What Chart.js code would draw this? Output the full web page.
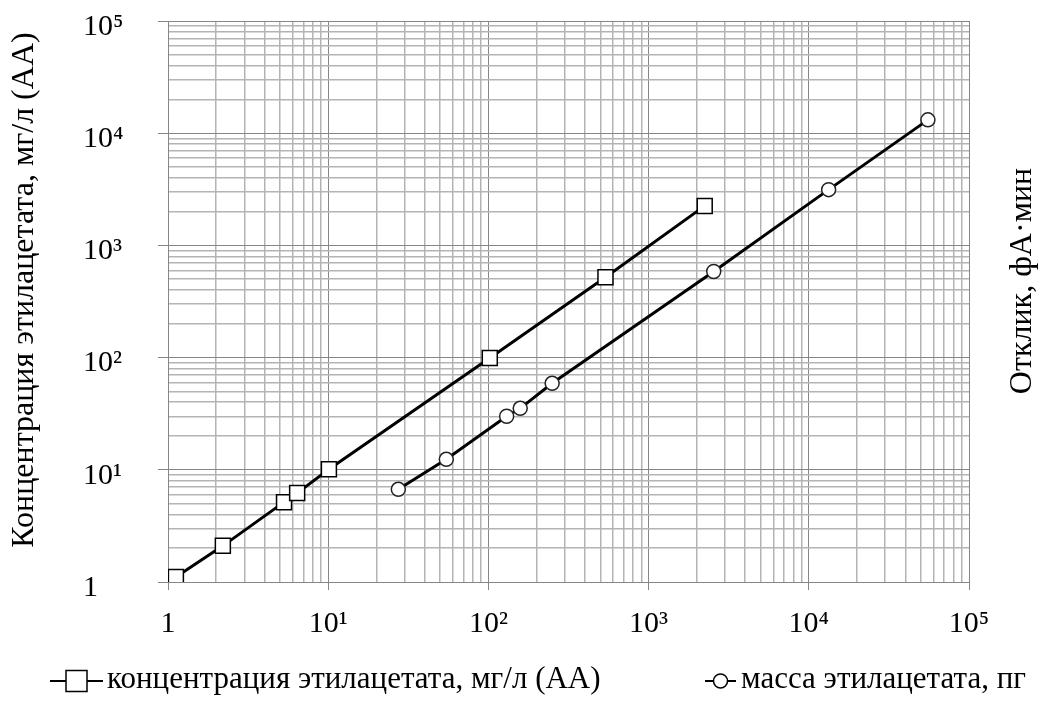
<!DOCTYPE html>
<html>
<head>
<meta charset="utf-8">
<script src="https://cdn.jsdelivr.net/npm/chart.js@4.4.0/dist/chart.umd.min.js"></script>
<style>
  html, body { margin: 0; padding: 0; background: #fff; }
  #wrap { width: 1057px; height: 702px; }
</style>
</head>
<body>
<div id="wrap"><canvas id="chart"></canvas></div>
<script>
// axis decades and their labels
const decades = [1, 10, 100, 1000, 10000, 100000]
const tickLabels = ['1', '10¹', '10²', '10³', '10⁴', '10⁵']
const minorSteps = [1, 2, 3, 4, 5, 6, 7, 8, 9]

// concentration series (squares)
const concX = [1.12, 2.2, 5.3, 6.4, 10.1, 102, 538, 2240]
const concY = [1.11, 2.1, 5.15, 6.2, 10.1, 99, 520, 2250]

// mass series (circles)
const massX = [27.4, 54.6, 130, 158, 250, 2550, 13300, 55400]
const massY = [6.7, 12.4, 30, 35.3, 59, 585, 3140, 13150]

const seriesNames = ['концентрация этилацетата, мг/л (АА)', 'масса этилацетата, пг']
const leftTitle = 'Концентрация этилацетата, мг/л (АА)'
const rightTitle = 'Отклик, фА·мин'

const FONT = '"Liberation Serif", "Times New Roman", serif'
const MAJOR = '#868686'
const MINOR = '#b4b4b4'

const isMajor = v => decades.includes(v)
const labelFor = v => {
  const i = decades.indexOf(v)
  return i >= 0 ? tickLabels[i] : ''
}
const gridTicks = () => {
  const ticks = []
  decades.slice(0, -1).forEach(d => minorSteps.forEach(m => ticks.push({ value: m * d })))
  ticks.push({ value: decades[decades.length - 1] })
  return ticks
}
const points = (xs, ys) => xs.map((x, i) => ({ x: x, y: ys[i] }))

const logAxis = (tickLength, ticks, afterFit) => ({
  type: 'logarithmic',
  min: decades[0],
  max: decades[decades.length - 1],
  afterBuildTicks: scale => { scale.ticks = gridTicks() },
  afterFit: afterFit,
  ticks: Object.assign({
    autoSkip: false,
    color: '#000',
    font: { family: FONT, size: 30 },
    callback: v => labelFor(v)
  }, ticks),
  grid: {
    color: c => (c.tick && isMajor(c.tick.value)) ? MAJOR : MINOR,
    lineWidth: c => (c.tick && isMajor(c.tick.value)) ? 1 : 1.5,
    tickColor: c => (c.tick && isMajor(c.tick.value)) ? MAJOR : 'rgba(0,0,0,0)',
    tickLength: tickLength
  },
  border: { color: MAJOR, width: 1 }
})

// titles on both sides read bottom-to-top, legend with line + marker
const decor = {
  id: 'decor',
  afterDraw(chart) {
    const ctx = chart.ctx
    ctx.save()
    ctx.fillStyle = '#000'
    ctx.font = '32px ' + FONT
    ctx.textBaseline = 'alphabetic'
    ctx.textAlign = 'center'
    ;[[leftTitle, 33, 290], [rightTitle, 1031, 281]].forEach(([t, x, y]) => {
      ctx.save()
      ctx.translate(x, y)
      ctx.rotate(-Math.PI / 2)
      ctx.fillText(t, 0, 0)
      ctx.restore()
    })

    const items = [
      { x0: 50, x1: 103, text: 107, style: 'rect', size: 21 },
      { x0: 705, x1: 736, text: 741, style: 'circle', size: 14 }
    ]
    const ly = 681
    ctx.font = '31px ' + FONT
    items.forEach((it, i) => {
      ctx.strokeStyle = '#000'
      ctx.lineWidth = 2
      ctx.beginPath()
      ctx.moveTo(it.x0, ly)
      ctx.lineTo(it.x1, ly)
      ctx.stroke()
      const cx = (it.x0 + it.x1) / 2
      ctx.fillStyle = '#fff'
      ctx.lineWidth = 1.5
      ctx.beginPath()
      if (it.style === 'rect') ctx.rect(cx - it.size / 2, ly - it.size / 2, it.size, it.size)
      else ctx.arc(cx, ly, it.size / 2, 0, Math.PI * 2)
      ctx.fill()
      ctx.stroke()
      ctx.fillStyle = '#000'
      ctx.textAlign = 'left'
      ctx.fillText(seriesNames[i], it.text, 688)
    })
    ctx.restore()
  }
}

new Chart(document.getElementById('chart'), {
  type: 'scatter',
  data: {
    datasets: [{
      label: seriesNames[0],
      data: points(concX, concY),
      showLine: true,
      borderColor: '#000',
      borderWidth: 3,
      pointStyle: 'rect',
      pointRadius: 10.6,
      pointBackgroundColor: '#fff',
      pointBorderColor: '#000',
      pointBorderWidth: 1.5
    }, {
      label: seriesNames[1],
      data: points(massX, massY),
      showLine: true,
      borderColor: '#000',
      borderWidth: 3,
      pointStyle: 'circle',
      pointRadius: 7,
      pointBackgroundColor: '#fff',
      pointBorderColor: '#222',
      pointBorderWidth: 1.5
    }]
  },
  options: {
    responsive: true,
    maintainAspectRatio: false,
    animation: false,
    layout: { padding: { left: 83, right: 88, top: 20, bottom: 60 } },
    plugins: { legend: { display: false }, tooltip: { enabled: false } },
    scales: {
      x: logAxis(8, { maxRotation: 0, minRotation: 0, padding: 16 }, s => { s.height = 60 }),
      y: logAxis(10, { crossAlign: 'far', labelOffset: 6 }, s => { s.width = 85 })
    }
  },
  plugins: [decor]
})
</script>
</body>
</html>
